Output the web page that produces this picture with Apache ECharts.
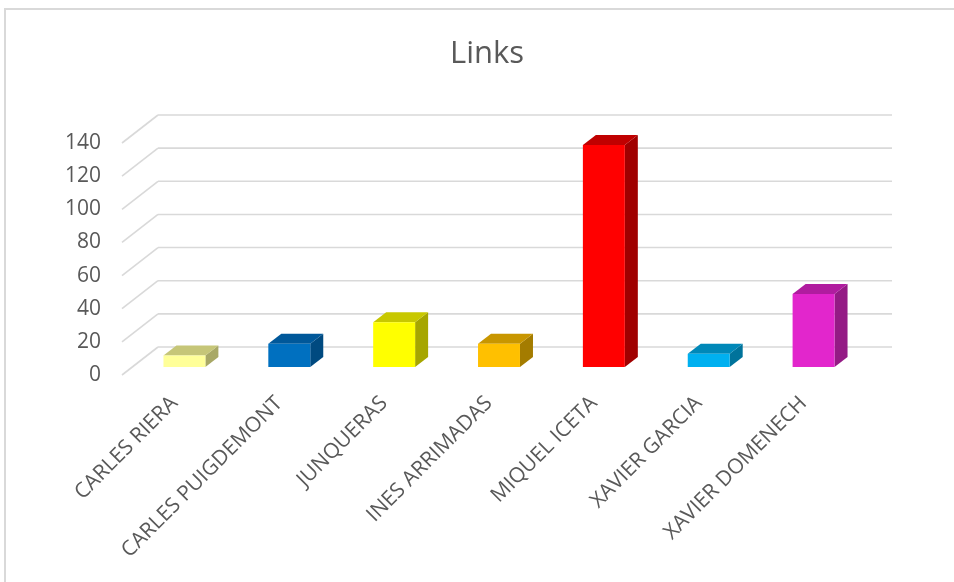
<!DOCTYPE html>
<html>
<head>
<meta charset="utf-8">
<script src="https://cdn.jsdelivr.net/npm/echarts@6/dist/echarts.min.js"></script>
<style>
  html, body { margin: 0; padding: 0; background: #fff; }
  #chart { width: 954px; height: 582px; }
</style>
</head>
<body>
<div id="chart"></div>
<script>
// Categories and link counts
const categories = ['CARLES RIERA', 'CARLES PUIGDEMONT', 'JUNQUERAS', 'INES ARRIMADAS',
                    'MIQUEL ICETA', 'XAVIER GARCIA', 'XAVIER DOMENECH'];
const links = [7, 14, 27, 14, 134, 8, 44];
const yTicks = [0, 20, 40, 60, 80, 100, 120, 140];

// Face colours (front, top, side) of each column
const frontColors = ['#FFFF99', '#0070C0', '#FFFF00', '#FFC000', '#FF0000', '#00B0F0', '#E226CC'];
const topColors   = ['#C6C678', '#00589A', '#C8C800', '#C89600', '#C00000', '#0088B8', '#B01C9F'];
const sideColors  = ['#A8A866', '#004A80', '#A6A600', '#A47C00', '#A00000', '#00739B', '#941B85'];

const gridColor = '#D9D9D9';
const textColor = '#595959';
const fontFamily = "'Open Sans', 'Noto Sans', sans-serif";

// Oblique projection: offset of the back wall, of the column front face, and column depth
const WALL = [36, -28];
const COL_FRONT = [10, -8];
const COL_DEPTH = [13, -10];

const chart = echarts.init(document.getElementById('chart'), null, { renderer: 'canvas' });

function renderWall(params, api) {
  const v = api.value(1);
  const band = api.size([1, 0])[0];
  const n = categories.length;
  const pL = api.coord([0, v]);
  const pR = api.coord([n - 1, v]);
  const xL = pL[0] - band / 2;
  const xR = pR[0] + band / 2;
  const y = pL[1];
  const style = { stroke: gridColor, lineWidth: 1.6, fill: null };
  return {
    type: 'group',
    children: [
      { type: 'line', shape: { x1: xL, y1: y, x2: xL + WALL[0], y2: y + WALL[1] }, style: style },
      { type: 'line', shape: { x1: xL + WALL[0], y1: y + WALL[1], x2: xR + WALL[0], y2: y + WALL[1] }, style: style }
    ]
  };
}

function renderColumn(params, api) {
  const i = api.value(0);
  const base = api.coord([i, 0]);
  const top = api.coord([i, api.value(1)]);
  const band = api.size([1, 0])[0];
  const w = band * 0.4;
  const x0 = base[0] - w / 2 + COL_FRONT[0];
  const x1 = x0 + w;
  const yb = base[1] + COL_FRONT[1];
  const yt = top[1] + COL_FRONT[1];
  const dx = COL_DEPTH[0], dy = COL_DEPTH[1];
  return {
    type: 'group',
    children: [
      { type: 'polygon', shape: { points: [[x1, yt], [x1 + dx, yt + dy], [x1 + dx, yb + dy], [x1, yb]] },
        style: { fill: sideColors[i] } },
      { type: 'polygon', shape: { points: [[x0, yt], [x0 + dx, yt + dy], [x1 + dx, yt + dy], [x1, yt]] },
        style: { fill: topColors[i] } },
      { type: 'rect', shape: { x: x0, y: yt, width: w, height: yb - yt },
        style: { fill: frontColors[i] } }
    ]
  };
}

const option = {
  backgroundColor: '#ffffff',
  animation: false,
  title: {
    text: 'Links',
    left: 445,
    top: 34,
    textStyle: { fontFamily: fontFamily, fontSize: 31, fontWeight: 'normal', color: textColor }
  },
  graphic: [
    { type: 'polyline', shape: { points: [[5, 582], [5, 9], [954, 9]] },
      style: { stroke: gridColor, lineWidth: 2, fill: null }, silent: true }
  ],
  grid: { left: 122, right: 98, top: 143, bottom: 207, containLabel: false },
  xAxis: {
    type: 'category',
    data: categories,
    axisLine: { show: false },
    axisTick: { show: false },
    splitLine: { show: false },
    axisLabel: {
      interval: 0,
      rotate: 45,
      margin: 25,
      color: textColor,
      fontFamily: fontFamily,
      fontSize: 21
    }
  },
  yAxis: {
    type: 'value',
    min: 0,
    max: 140,
    interval: 20,
    axisLine: { show: false },
    axisTick: { show: false },
    splitLine: { show: false },
    axisLabel: { margin: 21, color: textColor, fontFamily: fontFamily, fontSize: 21 }
  },
  series: [
    {
      type: 'custom',
      name: 'walls',
      silent: true,
      renderItem: renderWall,
      encode: { x: 0, y: 1 },
      data: yTicks.map(v => [0, v]),
      z: 1
    },
    {
      type: 'custom',
      name: 'Links',
      renderItem: renderColumn,
      encode: { x: 0, y: 1 },
      data: links.map((v, i) => [i, v]),
      z: 2
    }
  ]
};

chart.setOption(option);
</script>
</body>
</html>
